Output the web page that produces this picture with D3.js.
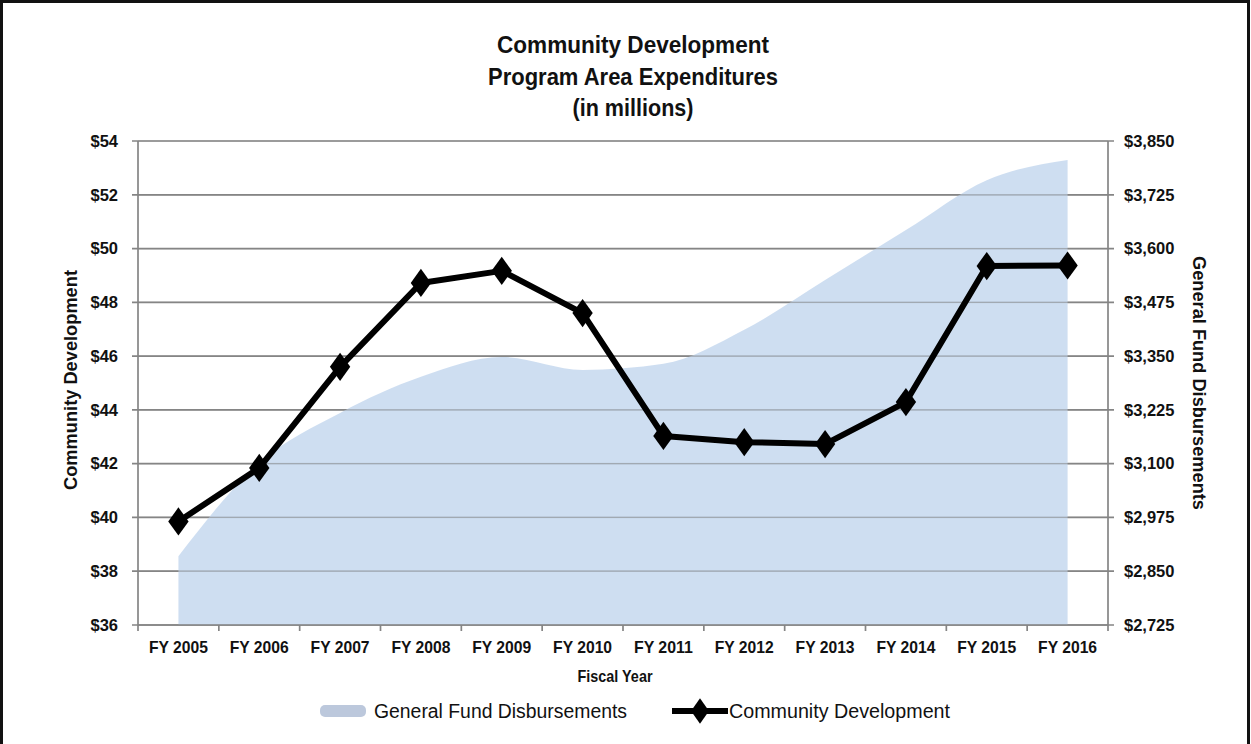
<!DOCTYPE html>
<html><head><meta charset="utf-8">
<script src="https://cdn.jsdelivr.net/npm/d3@7"></script>
<style>
html,body{margin:0;padding:0;background:#fff;}
svg text{font-family:"Liberation Sans Narrow","Arial Narrow","Liberation Sans",Arial,sans-serif;}
</style></head>
<body><svg id="c" width="1251" height="744"></svg>
<script>
const categories = ["FY 2005","FY 2006","FY 2007","FY 2008","FY 2009","FY 2010","FY 2011","FY 2012","FY 2013","FY 2014","FY 2015","FY 2016"];
const communityDevelopment = [39.85, 41.84, 45.6, 48.72, 49.17, 47.6, 43.03, 42.8, 42.73, 44.29, 49.35, 49.37];
const generalFund = [2885, 3102, 3218, 3302, 3348, 3318, 3332, 3411, 3527, 3643, 3759, 3806];
const leftTicks = [36,38,40,42,44,46,48,50,52,54];
const rightTicks = [2725,2850,2975,3100,3225,3350,3475,3600,3725,3850];
const titleLines = ["Community Development","Program Area Expenditures","(in millions)"];

const svg = d3.select("#c");
const L = 138, R = 1108, T = 141, B = 625;

// frame
svg.append("rect").attr("x",0).attr("y",0).attr("width",1251).attr("height",744).attr("fill","#fff");
svg.append("path").attr("d","M1.5,744 V1.5 H1248.5 V744").attr("fill","none").attr("stroke","#111").attr("stroke-width",3);

const x = d3.scaleBand().domain(categories).range([L,R]).padding(0);
const yL = d3.scaleLinear().domain([36,54]).range([B,T]);
const yR = d3.scaleLinear().domain([2725,3850]).range([B,T]);
const cx = d => x(d) + x.bandwidth()/2;

// gridlines
svg.append("g").selectAll("line").data(leftTicks).join("line")
  .attr("x1",L-6).attr("x2",R+6).attr("y1",d=>yL(d)).attr("y2",d=>yL(d))
  .attr("stroke","#858585").attr("stroke-width",1.7);

// area
const areaGen = d3.area().x((d,i)=>cx(categories[i])).y0(B).y1(d=>yR(d)).curve(d3.curveMonotoneX);
svg.append("path").datum(generalFund).attr("d",areaGen).attr("fill","#c6d8ee").attr("fill-opacity",0.85);

svg.append("g").selectAll("line").data(leftTicks.slice(1)).join("line")
  .attr("x1",L).attr("x2",R).attr("y1",d=>yL(d)).attr("y2",d=>yL(d))
  .attr("stroke","#858585").attr("stroke-width",1.2).attr("stroke-opacity",0.5);

// axes lines
svg.append("line").attr("x1",L).attr("x2",L).attr("y1",T).attr("y2",B).attr("stroke","#858585").attr("stroke-width",1.7);
svg.append("line").attr("x1",R).attr("x2",R).attr("y1",T).attr("y2",B).attr("stroke","#858585").attr("stroke-width",1.7);
svg.append("line").attr("x1",L).attr("x2",R).attr("y1",B).attr("y2",B).attr("stroke","#858585").attr("stroke-width",1.7);
const bounds = categories.map(c=>x(c)).concat([R]);
svg.append("g").selectAll("line").data(bounds).join("line")
  .attr("x1",d=>d).attr("x2",d=>d).attr("y1",B).attr("y2",B+6).attr("stroke","#858585").attr("stroke-width",1.7);

// left tick labels
svg.append("g").selectAll("text").data(leftTicks).join("text")
  .attr("x",118).attr("y",d=>yL(d)).attr("dy","0.35em").attr("text-anchor","end")
  .style("font-family","'Liberation Sans',Arial,sans-serif").style("font-weight","bold").style("font-size","16.5px").attr("fill","#111")
  .text(d=>"$"+d);
// right tick labels
svg.append("g").selectAll("text").data(rightTicks).join("text")
  .attr("x",1124).attr("y",d=>yR(d)).attr("dy","0.35em").attr("text-anchor","start")
  .style("font-family","'Liberation Sans',Arial,sans-serif").style("font-weight","bold").style("font-size","16.5px").attr("fill","#111")
  .text(d=>"$"+d3.format(",")(d));

// x tick labels
svg.append("g").selectAll("text").data(categories).join("text")
  .attr("x",d=>cx(d)).attr("y",647).attr("dy","0.35em").attr("text-anchor","middle")
  .style("font-weight","bold").style("font-size","17px").attr("fill","#111")
  .attr("textLength",59).attr("lengthAdjust","spacingAndGlyphs")
  .text(d=>d);

// line
const lineGen = d3.line().x((d,i)=>cx(categories[i])).y(d=>yL(d));
svg.append("path").datum(communityDevelopment).attr("d",lineGen).attr("fill","none").attr("stroke","#000").attr("stroke-width",6).attr("stroke-linejoin","round");
const diamond = d3.symbol().type(d3.symbolDiamond).size(230);
svg.append("g").selectAll("path").data(communityDevelopment).join("path")
  .attr("transform",(d,i)=>`translate(${cx(categories[i])},${yL(d)}) scale(1.25,1)`)
  .attr("d",diamond).attr("fill","#000");

// title
const tw = [272,290,121];
svg.append("g").selectAll("text").data(titleLines).join("text")
  .attr("x",633).attr("y",(d,i)=>45+i*31.5).attr("dy","0.35em").attr("text-anchor","middle")
  .style("font-weight","bold").style("font-size","24px").attr("fill","#111")
  .attr("textLength",(d,i)=>tw[i]).attr("lengthAdjust","spacingAndGlyphs")
  .text(d=>d);

// axis titles
svg.append("text").attr("transform","translate(70,380) rotate(-90)").attr("dy","0.35em").attr("text-anchor","middle")
  .style("font-weight","bold").style("font-size","19px").attr("fill","#111")
  .attr("textLength",220).attr("lengthAdjust","spacingAndGlyphs").text("Community Development");
svg.append("text").attr("transform","translate(1200,383) rotate(90)").attr("dy","0.35em").attr("text-anchor","middle")
  .style("font-weight","bold").style("font-size","19px").attr("fill","#111")
  .attr("textLength",254).attr("lengthAdjust","spacingAndGlyphs").text("General Fund Disbursements");
svg.append("text").attr("x",615).attr("y",676).attr("dy","0.35em").attr("text-anchor","middle")
  .style("font-weight","bold").style("font-size","17px").attr("fill","#111")
  .attr("textLength",75).attr("lengthAdjust","spacingAndGlyphs").text("Fiscal Year");

// legend
svg.append("rect").attr("x",320).attr("y",705).attr("width",46).attr("height",12).attr("fill","#bcc8dc").attr("rx",5);
svg.append("text").attr("x",374).attr("y",711).attr("dy","0.35em")
  .style("font-size","20px").style("font-weight","500").attr("fill","#111")
  .attr("textLength",253).attr("lengthAdjust","spacingAndGlyphs").text("General Fund Disbursements");
svg.append("line").attr("x1",672).attr("x2",728).attr("y1",711).attr("y2",711).attr("stroke","#000").attr("stroke-width",6);
svg.append("path").attr("transform","translate(700,711) scale(1.1,0.9)").attr("d",diamond).attr("fill","#000");
svg.append("text").attr("x",729).attr("y",711).attr("dy","0.35em")
  .style("font-size","20px").style("font-weight","500").attr("fill","#111")
  .attr("textLength",221).attr("lengthAdjust","spacingAndGlyphs").text("Community Development");
</script></body></html>
